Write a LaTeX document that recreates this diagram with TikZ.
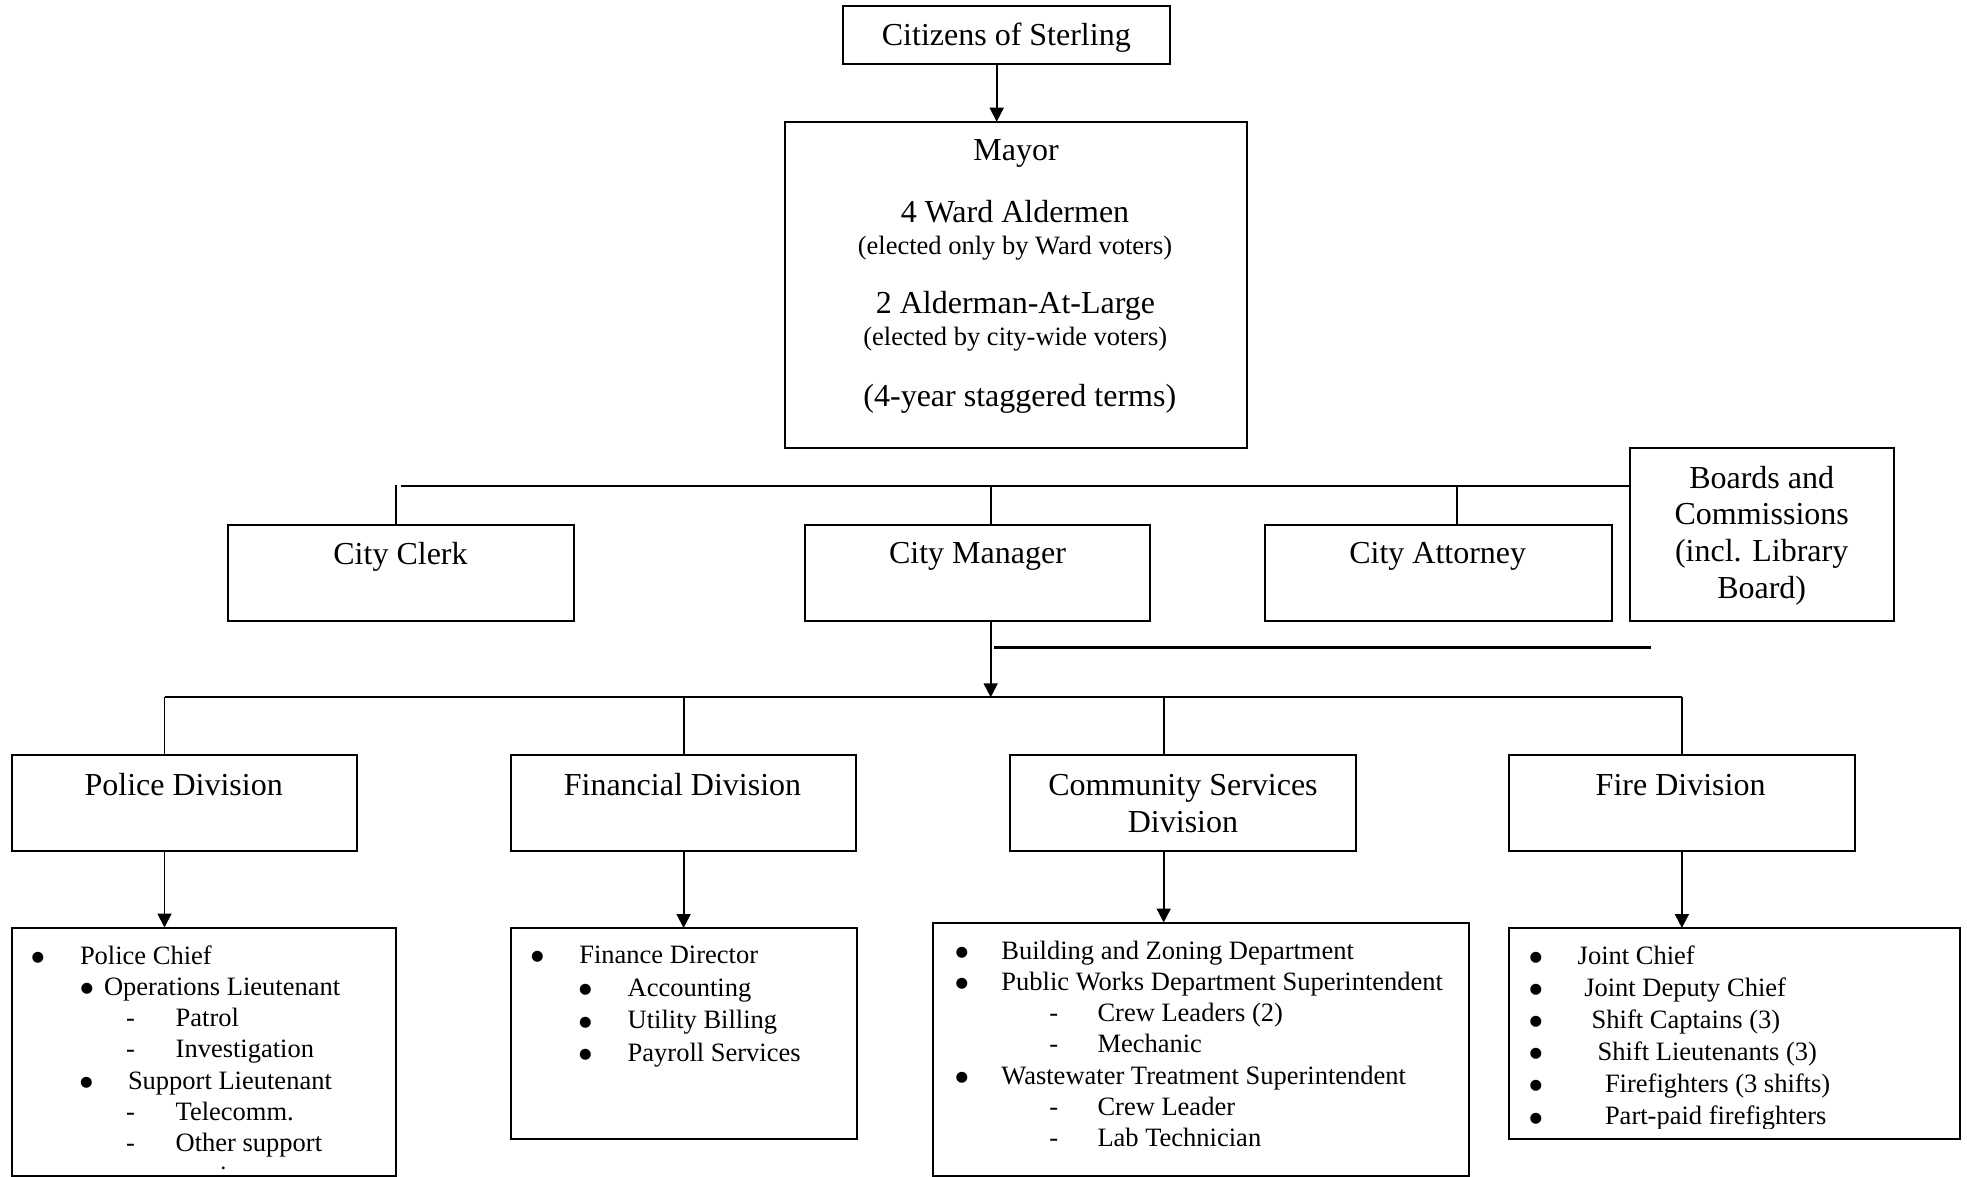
\documentclass[tikz,border=0pt]{standalone}
\usepackage{fontspec}
\setmainfont{Liberation Serif}
\newfontfamily\bulfont{DejaVu Sans}
\usetikzlibrary{arrows.meta,fit}
\begin{document}
\begin{tikzpicture}[x=0.5pt,y=-0.5pt,
  box/.style={draw,line width=1pt,inner sep=0pt,outer sep=0pt},
  conn/.style={line width=0.95pt},
  arr/.style={conn,-{Triangle[width=7pt,length=7pt]}},
  thickln/.style={line width=1.4pt},
  big/.style={inner sep=0pt,outer sep=0pt,font=\fontsize{16}{19}\selectfont},
  small/.style={inner sep=0pt,outer sep=0pt,font=\fontsize{13.25}{16}\selectfont},
  bul/.style={inner sep=0pt,outer sep=0pt,anchor=center,font=\bulfont\fontsize{7.2}{8}\selectfont},
  ctr/.style={anchor=base},
  lft/.style={anchor=base west},
]
\useasboundingbox (0,0) rectangle (1967,1177);

% ---------- boxes ----------
\node[box,fit={(842.7,6) (1170,64)}] (cit) {};
\node[box,fit={(785.3,121.7) (1246.7,447.7)}] (mayor) {};
\node[box,fit={(228,524.6) (574,621)}] (clerk) {};
\node[box,fit={(805,524.6) (1150.4,621)}] (cm) {};
\node[box,fit={(1265.2,524.6) (1611.6,621)}] (att) {};
\node[box,fit={(1629.7,447.7) (1893.7,621)}] (boards) {};
\node[box,fit={(11.5,755) (357,851)}] (pd) {};
\node[box,fit={(510.8,755) (856,851)}] (fd) {};
\node[box,fit={(1009.5,755) (1355.6,851)}] (csd) {};
\node[box,fit={(1509.1,755) (1854.7,851)}] (fire) {};
\node[box,fit={(11.6,927.5) (396,1176)}] (pl) {};
\node[box,fit={(510.7,928) (856.5,1138.7)}] (fl) {};
\node[box,fit={(932.5,922.5) (1469,1176)}] (cl) {};
\node[box,fit={(1509,928) (1960,1138.7)}] (frl) {};

% ---------- texts ----------
\node[big,ctr] (tcit) at (1006.3,45.7) {Citizens of Sterling};
\node[big,ctr] (tm1) at (1016,160.5) {Mayor};
\node[big,ctr] (tm2) at (1015,222.7) {4 Ward Aldermen};
\node[small,ctr] (tm3) at (1015,254.5) {(elected only by Ward voters)};
\node[big,ctr] (tm4) at (1015.5,313.3) {2 Alderman-At-Large};
\node[small,ctr] (tm5) at (1015.3,345) {(elected by city-wide voters)};
\node[big,ctr] (tm6) at (1019.8,406.7) {(4-year staggered terms)};

\node[big,ctr] (tclerk) at (400.5,564) {City Clerk};
\node[big,ctr] (tcm) at (977.5,563.5) {City Manager};
\node[big,ctr] (tatt) at (1437.7,563.5) {City Attorney};
\node[big,ctr] (tb1) at (1761.7,488) {Boards and};
\node[big,ctr] (tb2) at (1761.7,524.8) {Commissions};
\node[big,ctr] (tb3) at (1761.7,561.6) {(incl. Library};
\node[big,ctr] (tb4) at (1761.7,598.4) {Board)};

\node[big,ctr] (tpd) at (183.7,795) {Police Division};
\node[big,ctr] (tfd) at (682.5,795) {Financial Division};
\node[big,ctr] (tcs1) at (1183,795) {Community Services};
\node[big,ctr] (tcs2) at (1183,832.7) {Division};
\node[big,ctr] (tfire) at (1680.6,795) {Fire Division};

% police list
\node[bul] (pb1) at (38,957.5) {●};
\node[small,lft] (p1) at (80,964) {Police Chief};
\node[bul] (pb2) at (87,988.8) {●};
\node[small,lft] (p2) at (104,995.3) {Operations Lieutenant};
\node[small,ctr] (pd3) at (130.5,1026.6) {-};
\node[small,lft] (p3) at (175.7,1026.6) {Patrol};
\node[small,ctr] (pd4) at (130.5,1057.9) {-};
\node[small,lft] (p4) at (175.7,1057.9) {Investigation};
\node[bul] (pb5) at (86.5,1082.7) {●};
\node[small,lft] (p5) at (128,1089.2) {Support Lieutenant};
\node[small,ctr] (pd6) at (130.5,1120.5) {-};
\node[small,lft] (p6) at (175.7,1120.5) {Telecomm.};
\node[small,ctr] (pd7) at (130.5,1151.8) {-};
\node[small,lft] (p7) at (175.7,1151.8) {Other support};
\begin{scope}
  \clip (pl.north west) rectangle (396,1170.5);
  \node[small,lft] (p8) at (175.7,1184) {services};
\end{scope}

% finance list
\node[bul] (fb1) at (537.5,956.8) {●};
\node[small,lft] (f1) at (579.3,963.3) {Finance Director};
\node[bul] (fb2) at (585.5,989.6) {●};
\node[small,lft] (f2) at (627.7,996.1) {Accounting};
\node[bul] (fb3) at (585.5,1022.4) {●};
\node[small,lft] (f3) at (627.7,1028.9) {Utility Billing};
\node[bul] (fb4) at (585.5,1055.2) {●};
\node[small,lft] (f4) at (627.7,1061.7) {Payroll Services};

% community services list
\node[bul] (cb1) at (962,952.8) {●};
\node[small,lft] (c1) at (1001.4,959.3) {Building and Zoning Department};
\node[bul] (cb2) at (962,984) {●};
\node[small,lft] (c2) at (1001.4,990.5) {Public Works Department Superintendent};
\node[small,ctr] (cd3) at (1053.8,1021.7) {-};
\node[small,lft] (c3) at (1097.5,1021.7) {Crew Leaders (2)};
\node[small,ctr] (cd4) at (1053.8,1052.9) {-};
\node[small,lft] (c4) at (1097.5,1052.9) {Mechanic};
\node[bul] (cb5) at (962,1077.6) {●};
\node[small,lft] (c5) at (1001.4,1084.1) {Wastewater Treatment Superintendent};
\node[small,ctr] (cd6) at (1053.8,1115.3) {-};
\node[small,lft] (c6) at (1097.5,1115.3) {Crew Leader};
\node[small,ctr] (cd7) at (1053.8,1146.5) {-};
\node[small,lft] (c7) at (1097.5,1146.5) {Lab Technician};

% fire list
\node[bul] (rb1) at (1536,957.8) {●};
\node[small,lft] (r1) at (1577.7,964.3) {Joint Chief};
\node[bul] (rb2) at (1536,989.9) {●};
\node[small,lft] (r2) at (1584.3,996.4) {Joint Deputy Chief};
\node[bul] (rb3) at (1536,1022) {●};
\node[small,lft] (r3) at (1591.7,1028.5) {Shift Captains (3)};
\node[bul] (rb4) at (1536,1054.1) {●};
\node[small,lft] (r4) at (1597.7,1060.6) {Shift Lieutenants (3)};
\node[bul] (rb5) at (1536,1086.2) {●};
\node[small,lft] (r5) at (1605,1092.7) {Firefighters (3 shifts)};
\node[bul] (rb6) at (1536,1118.3) {●};
\begin{scope}
  \clip (1509,1100) rectangle (1960,1128.3);
  \node[small,lft] (r6) at (1605,1124.8) {Part-paid firefighters};
\end{scope}

% ---------- connector coordinates ----------
\coordinate (xcit) at (996.7,0);
\coordinate (xclerk) at (395.7,485.3);
\coordinate (busTs) at (401,486);
\coordinate (xcm) at (990.7,0);
\coordinate (xatt) at (1457.2,0);
\coordinate (busT) at (0,486);
\coordinate (busB) at (0,697.3);
\coordinate (xpd) at (164.5,0);
\coordinate (xfd) at (683.6,0);
\coordinate (xcs) at (1163.7,0);
\coordinate (xfire) at (1681.9,0);
\coordinate (tl1) at (993.5,647.7);
\coordinate (tl2) at (1650.5,647.7);

% ---------- connectors ----------
\draw[arr] (xcit |- cit.south) -- (xcit |- mayor.north);
\draw[conn] (busTs) -- (boards.west |- busT);
\draw[conn] (xclerk) -- (xclerk |- clerk.north);
\draw[conn] (xcm |- busT) -- (xcm |- cm.north);
\draw[conn] (xatt |- busT) -- (xatt |- att.north);
\draw[arr] (xcm |- cm.south) -- (xcm |- busB);
\draw[thickln] (tl1) -- (tl2);
\draw[conn] (xpd |- busB) -- (xfire |- busB);
\draw[conn] (xpd |- busB) -- (xpd |- pd.north);
\draw[conn] (xfd |- busB) -- (xfd |- fd.north);
\draw[conn] (xcs |- busB) -- (xcs |- csd.north);
\draw[conn] (xfire |- busB) -- (xfire |- fire.north);
\draw[arr] (xpd |- pd.south) -- (xpd |- pl.north);
\draw[arr] (xfd |- fd.south) -- (xfd |- fl.north);
\draw[arr] (xcs |- csd.south) -- (xcs |- cl.north);
\draw[arr] (xfire |- fire.south) -- (xfire |- frl.north);
\end{tikzpicture}
\end{document}
